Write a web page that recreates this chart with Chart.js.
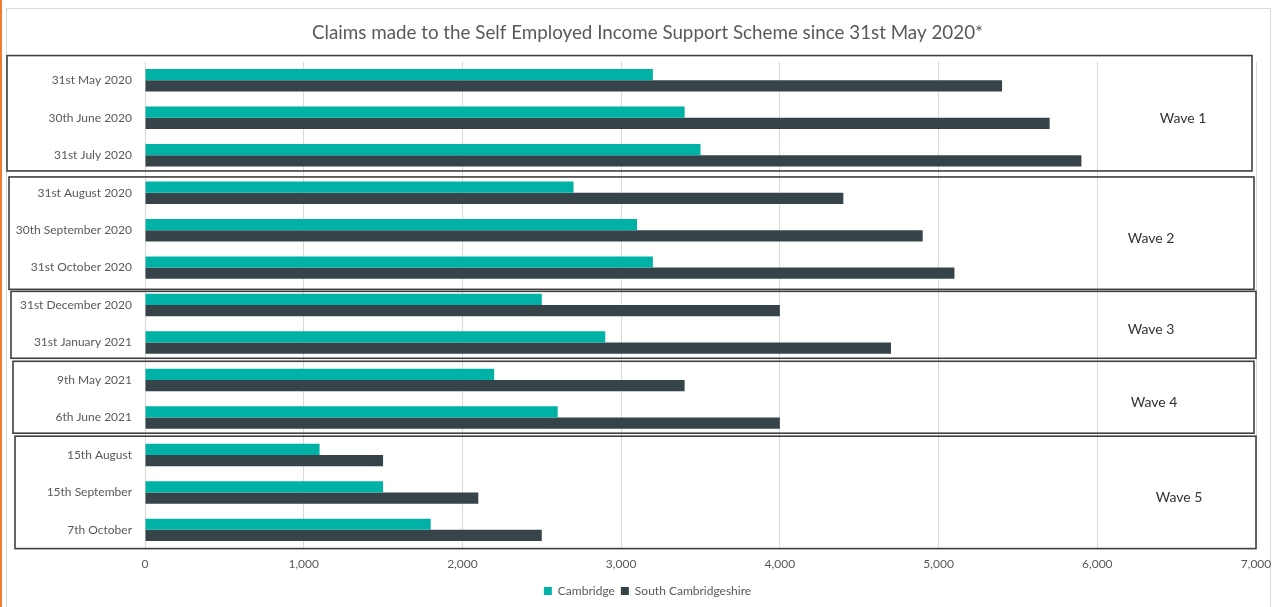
<!DOCTYPE html>
<html>
<head>
<meta charset="utf-8">
<script src="https://cdn.jsdelivr.net/npm/chart.js@4.4.1/dist/chart.umd.min.js"></script>
<style>
  html, body { margin: 0; padding: 0; background: #fff; }
  #wrap { width: 1273px; height: 607px; position: relative; }
</style>
</head>
<body>
<div id="wrap"><canvas id="seissChart" width="1273" height="607"></canvas></div>
<script>
// Données
const dates = [
    '31st May 2020', '30th June 2020', '31st July 2020',
    '31st August 2020', '30th September 2020', '31st October 2020',
    '31st December 2020', '31st January 2021',
    '9th May 2021', '6th June 2021',
    '15th August', '15th September', '7th October'
];
const cambridge = [3200, 3400, 3500, 2700, 3100, 3200, 2500, 2900, 2200, 2600, 1100, 1500, 1800];
const southCambs = [5400, 5700, 5900, 4400, 4900, 5100, 4000, 4700, 3400, 4000, 1500, 2100, 2500];

// Vagues : libellé, première et dernière catégorie
const waveLabels = ['Wave 1', 'Wave 2', 'Wave 3', 'Wave 4', 'Wave 5'];
const waveFirst = [0, 3, 6, 8, 10];
const waveLast = [2, 5, 7, 9, 12];

const TEXT = '#595959';

// Cadre + encadrés des vagues
const wavesPlugin = {
    id: 'waves',
    afterLayout(chart) {
        // titre et légende centrés un peu plus à droite, comme dans Excel
        chart.titleBlock.left += 22;
        chart.legend.left += 22;
    },
    beforeDraw(chart) {
        const { ctx, width, height } = chart;
        ctx.save();
        ctx.fillStyle = '#fff';
        ctx.fillRect(0, 0, width, height);
        ctx.fillStyle = '#ED7D31';
        ctx.fillRect(0, 0, 2, height);
        ctx.strokeStyle = '#d9d9d9';
        ctx.lineWidth = 1;
        ctx.strokeRect(6.5, 8.5, width - 9, height);
        ctx.restore();
    },
    afterDatasetsDraw(chart) {
        const { ctx } = chart;
        const y = chart.scales.y;
        const step = y.getPixelForValue(1) - y.getPixelForValue(0);
        const boundary = i => y.getPixelForValue(i) - step / 2;
        const lefts = [7, 9, 11, 13, 15];
        const rights = [1252, 1254, 1256, 1254, 1256];
        const topPad = [-6, 3, 5, 0, 0];
        const botPad = [-3, 3, -3, -3, 0];
        const textX = [1183, 1151, 1151, 1154, 1179];
        ctx.save();
        waveLabels.forEach((label, i) => {
            const top = boundary(waveFirst[i]) + topPad[i];
            const bottom = boundary(waveLast[i] + 1) + botPad[i];
            ctx.strokeStyle = '#3f3f3f';
            ctx.lineWidth = 1.6;
            ctx.strokeRect(lefts[i], top, rights[i] - lefts[i], bottom - top);
            ctx.fillStyle = '#333';
            ctx.font = '14px Lato';
            ctx.textAlign = 'center';
            ctx.textBaseline = 'middle';
            ctx.fillText(label, textX[i], (top + bottom) / 2 + 5);
        });
        ctx.restore();
    }
};

new Chart(document.getElementById('seissChart'), {
    type: 'bar',
    data: {
        labels: dates,
        datasets: [{
            label: 'Cambridge',
            data: cambridge,
            backgroundColor: '#00B2A5'
        }, {
            label: 'South Cambridgeshire',
            data: southCambs,
            backgroundColor: '#364449'
        }]
    },
    options: {
        indexAxis: 'y',
        responsive: false,
        animation: false,
        layout: { padding: { left: 0, right: 0, top: 0, bottom: 0 } },
        datasets: { bar: { categoryPercentage: 0.6, barPercentage: 1.0 } },
        scales: {
            x: {
                min: 0,
                max: 7000,
                ticks: {
                    stepSize: 1000,
                    color: TEXT,
                    font: { family: 'Lato', size: 12 },
                    padding: 8,
                    callback: v => v.toLocaleString('en-GB')
                },
                grid: { color: '#d9d9d9', drawTicks: false },
                border: { display: false },
                afterFit: scale => { scale.paddingRight = 17; scale.paddingLeft = 0; }
            },
            y: {
                ticks: {
                    color: TEXT,
                    font: { family: 'Lato', size: 12 },
                    padding: 13
                },
                grid: { display: false, drawTicks: false },
                border: { display: false },
                afterFit: scale => { scale.width = 145; }
            }
        },
        plugins: {
            title: {
                display: true,
                text: 'Claims made to the Self Employed Income Support Scheme since 31st May 2020*',
                color: TEXT,
                font: { family: 'Lato', size: 18.8, weight: 'normal' },
                padding: { top: 22, bottom: 17 }
            },
            legend: {
                position: 'bottom',
                labels: {
                    color: TEXT,
                    font: { family: 'Lato', size: 12 },
                    boxWidth: 8,
                    boxHeight: 8,
                    padding: 6
                }
            },
            tooltip: { enabled: false }
        }
    },
    plugins: [wavesPlugin]
});
</script>
</body>
</html>
